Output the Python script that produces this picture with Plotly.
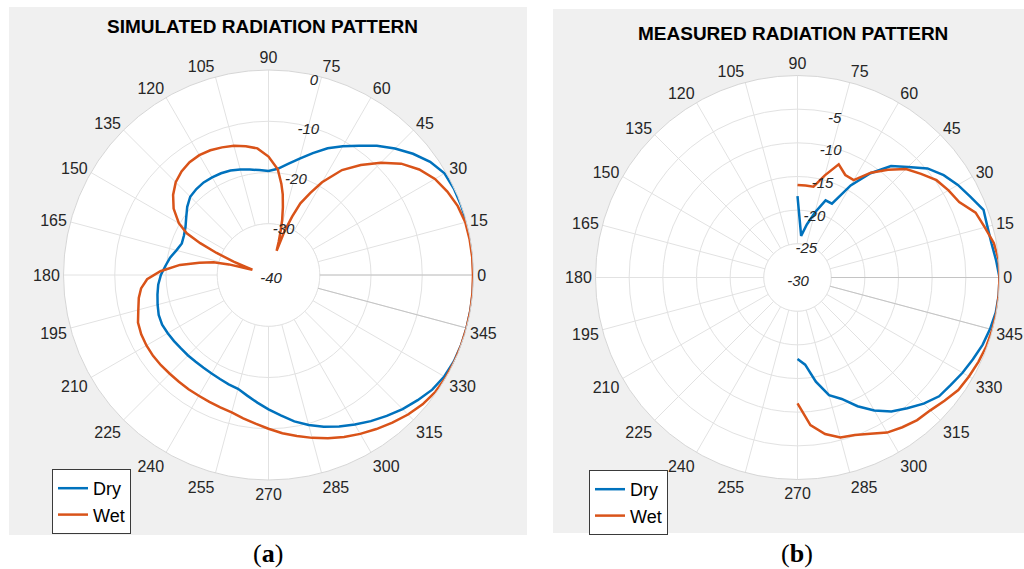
import plotly.graph_objects as go

# ---------------- data ----------------
angle_ticks = list(range(0, 360, 15))

# (a) simulated pattern, dB
sim_dry_theta = [0, 5, 10, 15, 20, 25, 30, 35, 40, 45, 50, 55, 60, 65, 70, 75, 80, 85, 90,
                 95, 100, 105, 110, 115, 120, 125, 130, 135, 140, 145, 150, 155, 160, 165, 170,
                 175, 180, 185, 190, 195, 200, 205, 210, 215, 220, 225, 230, 235, 240, 245, 250,
                 255, 260, 265, 270, 275, 280, 285, 290, 295, 300, 305, 310, 315, 320, 325, 330,
                 335, 340, 345, 350, 355, 360]
sim_dry_r = [0, 0, 0, 0, -0.05, -0.1, -0.35, -1.5, -3.2, -5.1, -7.1, -9.2, -11.0, -12.7, -14.7,
             -16.5, -18.0, -19.2, -19.7, -19.45, -19.1, -18.7, -18.3, -18.1, -18.0, -17.95, -18.1,
             -18.4, -19.3, -20.4, -21.3, -21.8, -22.0, -21.4, -20.5, -19.8, -19.0, -18.4, -18.0,
             -17.6, -17.2, -17.1, -17.3, -17.5, -17.7, -17.8, -17.9, -17.9, -17.8, -17.6, -17.3,
             -17.0, -16.1, -15.0, -13.8, -12.5, -11.0, -9.7, -8.5, -7.4, -6.3, -5.2, -4.1, -3.0,
             -2.0, -1.0, -0.4, -0.1, 0, 0, 0, 0, 0]

sim_wet_theta = [0, 5, 10, 15, 20, 25, 30, 35, 40, 45, 50, 55, 60, 63, 66, 68, 70, 71.5, 73, 74.5,
                 76, 78, 80, 82, 85, 90, 95, 100, 105, 110, 115, 120, 125, 130, 135, 140, 145, 150,
                 153, 155, 157, 159, 161, 162, 163, 165, 167, 170, 173.5, 178, 182, 186, 190, 195,
                 200, 205, 210, 215, 220, 225, 230, 235, 240, 245, 250, 255, 260, 265, 270, 275,
                 280, 285, 290, 295, 300, 305, 310, 315, 320, 325, 330, 335, 340, 345, 350, 355, 360]
sim_wet_r = [-0.1, -0.1, -0.15, -0.25, -0.7, -1.5, -2.5, -4.1, -6.2, -9.0, -12.0, -15.0, -19.1,
             -22.0, -24.7, -27.7, -31.0, -35.0, -33.2, -31.2, -29.0, -26.5, -24.0, -22.0, -19.3,
             -16.9, -15.2, -14.5, -13.9, -13.5, -13.15, -13.0, -13.15, -13.6, -14.4, -15.7, -17.4,
             -19.8, -22.1, -25.3, -29.0, -32.7, -35.8, -36.7, -35.8, -32.0, -29.0, -26.3, -22.6,
             -18.9, -16.3, -15.0, -14.3, -13.7, -12.9, -12.6, -12.5, -12.5, -12.6, -12.75, -12.8,
             -12.8, -12.8, -12.7, -12.5, -12.25, -11.6, -10.9, -10.0, -9.0, -8.1, -7.1, -6.1,
             -5.1, -4.2, -3.3, -2.4, -1.5, -0.75, -0.25, -0.05, 0, 0, 0, 0, -0.05, -0.1]

# (b) measured pattern, dB, theta from 270 through 0 to 90
meas_theta = list(range(-90, 95, 5))
meas_dry_r = [-17.9, -17.0, -14.3, -11.9, -10.8, -8.9, -7.2, -5.7, -4.65, -3.5, -2.55, -2.2, -1.7,
              -1.25, -0.75, -0.4, -0.1, 0, 0, -0.4, -0.75, -0.8, -0.6, -1.65, -2.5, -3.5, -4.8,
              -6.8, -8.4, -11.1, -14.2, -17.9, -17.8, -20.0, -22.0, -23.8, -17.9]
meas_wet_r = [-11.3, -8.0, -6.4, -5.4, -5.1, -4.4, -3.4, -2.85, -2.35, -2.1, -1.5, -0.85, -0.6,
              -0.35, -0.15, -0.05, 0, 0, 0, 0, -0.4, -1.2, -1.85, -3.5, -4.1, -4.8, -6.05, -7.2,
              -9.1, -11.0, -13.3, -13.2, -12.1, -14.3, -16.3, -16.3, -16.25]

sim_rticks = [-40, -30, -20, -10, 0]
meas_rticks = [-30, -25, -20, -15, -10, -5]

titles = ["SIMULATED RADIATION PATTERN", "MEASURED RADIATION PATTERN"]
captions = ["(<b>a</b>)", "(<b>b</b>)"]
series_names = ["Dry", "Wet"]

# ---------------- style ----------------
W, H = 1024, 569
DRY_C = "#0072BD"
WET_C = "#D95319"
GRID_C = "#e2e2e2"
TXT_C = "#262626"
SANS = "Liberation Sans, Arial, sans-serif"
SERIF = "Liberation Serif, Times New Roman, serif"

def px_dom(cx, cy, R):
    return dict(x=[(cx - R) / W, (cx + R) / W], y=[(H - cy - R) / H, (H - cy + R) / H])

fig = go.Figure()

circle_theta = list(range(0, 361, 3))

def add_panel(polar, inner_r, theta_d, r_d, theta_w, r_w, legend):
    # white inner disk hides spokes inside the innermost ring
    fig.add_trace(go.Scatterpolar(theta=circle_theta, r=[inner_r] * len(circle_theta),
                                  mode="lines", fill="toself", fillcolor="white",
                                  line=dict(color=GRID_C, width=1), hoverinfo="skip",
                                  showlegend=False, subplot=polar))
    for th in (0, 345):
        fig.add_trace(go.Scatterpolar(theta=[th, th], r=[inner_r, 0], mode="lines",
                                      line=dict(color="#c4c4c4", width=1), hoverinfo="skip",
                                      showlegend=False, subplot=polar))
    fig.add_trace(go.Scatterpolar(theta=theta_d, r=r_d, mode="lines", name=series_names[0],
                                  line=dict(color=DRY_C, width=2.5), subplot=polar, legend=legend))
    fig.add_trace(go.Scatterpolar(theta=theta_w, r=r_w, mode="lines", name=series_names[1],
                                  line=dict(color=WET_C, width=2.5), subplot=polar, legend=legend))

add_panel("polar", -30, sim_dry_theta, sim_dry_r, sim_wet_theta, sim_wet_r, "legend")
add_panel("polar2", -25, meas_theta, meas_dry_r, meas_theta, meas_wet_r, "legend2")
# label-only overlays carrying the radial tick labels
for sp in ("polar3", "polar4"):
    fig.add_trace(go.Scatterpolar(theta=[0], r=[None], mode="lines", showlegend=False,
                                  hoverinfo="skip", subplot=sp))

def polar_layout(dom, rng, rticks):
    return dict(
        domain=dom,
        bgcolor="white",
        angularaxis=dict(direction="counterclockwise", rotation=0, tickmode="array",
                         tickvals=angle_ticks, ticktext=[str(a) for a in angle_ticks],
                         showline=True, linecolor="#d6d6d6", linewidth=1,
                         gridcolor=GRID_C, gridwidth=1, ticks="",
                         tickfont=dict(family=SANS, size=16, color=TXT_C)),
        radialaxis=dict(range=rng, tickmode="array", tickvals=rticks,
                        showticklabels=False, angle=76, showline=False,
                        ticks="", gridcolor=GRID_C, gridwidth=1),
    )

def label_layout(dom, rng, rticks):
    return dict(
        domain=dom,
        bgcolor="rgba(0,0,0,0)",
        angularaxis=dict(visible=False, showgrid=False, showline=False, ticks="",
                         showticklabels=False),
        radialaxis=dict(range=rng, tickmode="array", tickvals=rticks,
                        ticktext=[str(v) for v in rticks], angle=76, side="clockwise",
                        tickangle=76, showline=False, showgrid=False, ticks="",
                        tickfont=dict(family=SANS, size=15, color=TXT_C, style="italic")),
    )

legend_common = dict(bgcolor="white", bordercolor="#3a3a3a", borderwidth=1,
                     font=dict(family=SANS, size=18, color="black"),
                     xanchor="left", yanchor="top", tracegroupgap=0)

fig.update_layout(
    width=W, height=H,
    margin=dict(l=0, r=0, t=0, b=0),
    paper_bgcolor="white",
    showlegend=True,
    polar=polar_layout(px_dom(268.5, 275, 205), [-40, 0], sim_rticks),
    polar2=polar_layout(px_dom(797.5, 277.5, 202), [-30, 0], meas_rticks),
    polar3=label_layout(px_dom(268.5 - 16, 275 - 1, 205), [-40, 0], sim_rticks),
    polar4=label_layout(px_dom(797.5 - 18, 277.5 - 1, 202), [-30, 0], meas_rticks),
    legend=dict(x=52 / W, y=1 - 469 / H, **legend_common),
    legend2=dict(x=589 / W, y=1 - 470 / H, **legend_common),
    shapes=[
        dict(type="rect", xref="paper", yref="paper", x0=9 / W, x1=527 / W,
             y0=1 - 535 / H, y1=1 - 7 / H, fillcolor="#f0f0f0", line=dict(width=0), layer="below"),
        dict(type="rect", xref="paper", yref="paper", x0=553 / W, x1=1.0,
             y0=1 - 533 / H, y1=1 - 9 / H, fillcolor="#f0f0f0", line=dict(width=0), layer="below"),
    ],
    annotations=[
        dict(text=f"<b>{titles[0]}</b>", x=262.5 / W, y=1 - 27 / H, xref="paper", yref="paper",
             showarrow=False, xanchor="center", yanchor="middle",
             font=dict(family=SANS, size=19, color="black")),
        dict(text=f"<b>{titles[1]}</b>", x=792.5 / W, y=1 - 33 / H, xref="paper", yref="paper",
             showarrow=False, xanchor="center", yanchor="middle",
             font=dict(family=SANS, size=19, color="black")),
        dict(text=captions[0], x=268 / W, y=1 - 553 / H, xref="paper", yref="paper",
             showarrow=False, xanchor="center", yanchor="middle",
             font=dict(family=SERIF, size=26, color="black")),
        dict(text=captions[1], x=797 / W, y=1 - 553 / H, xref="paper", yref="paper",
             showarrow=False, xanchor="center", yanchor="middle",
             font=dict(family=SERIF, size=26, color="black")),
    ],
)

fig.write_html("out.html")
